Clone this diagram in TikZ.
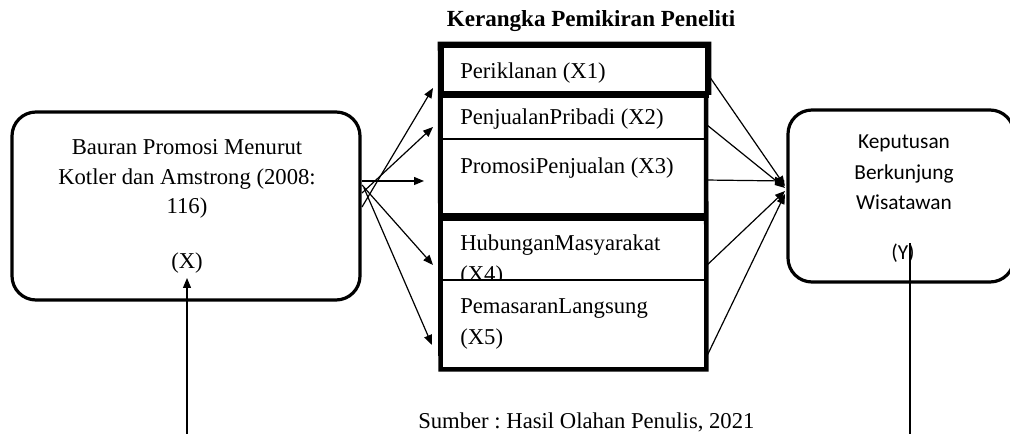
\documentclass[tikz,border=0pt]{standalone}
\usepackage{fontspec}
\setmainfont{Liberation Serif}
\newfontfamily\carl{Carlito}
\usetikzlibrary{arrows.meta,fit}
\frenchspacing
\begin{document}
\begin{tikzpicture}[x=0.75pt,y=-0.75pt,
  rbox/.style={draw,line width=2.4pt,rounded corners=18pt,inner sep=0pt},
  mbox/.style={draw,line width=1.6pt,fill=white,inner sep=0pt},
  ser/.style={font=\fontsize{17}{20}\selectfont,inner sep=0pt,anchor=base west},
  cen/.style={font=\fontsize{17}{20}\selectfont,inner sep=0pt,anchor=base},
  cal/.style={font=\carl\fontsize{16}{19}\selectfont,inner sep=0pt,anchor=base},
  arr/.style={line width=0.9pt,-{Triangle[length=7.5pt,width=6pt]}},
  ln/.style={line width=0.9pt}]
\useasboundingbox (0,0) rectangle (1010,434);

% title
\node[font=\bfseries\fontsize{17.3}{20}\selectfont,anchor=base,inner sep=0pt] (title) at (591,26.7) {Kerangka Pemikiran Peneliti};

% left box
\node[rbox,fit={(12,112) (360,300)}] (L) {};
\node[cen] (l1) at (187,155) {Bauran Promosi Menurut};
\node[cen] (l2) at (187,184.5) {Kotler dan Amstrong (2008:};
\node[cen] (l3) at (187,213.5) {116)};
\node[cen] (l4) at (187,268.5) {(X)};

% right box
\node[rbox,fit={(788,110) (1014,282)}] (R) {};
\node[cal] (r1) at (904,149) {Keputusan};
\node[cal] (r2) at (904,180) {Berkunjung};
\node[cal] (r3) at (904,210) {Wisatawan};
\node[cal] (r4) at (903,260) {(Y)};

% middle boxes
\node[mbox,line width=3pt,fit={(442,46) (707,93)}] (b1) {};
\node[ser] (t1) at (460,78.5) {Periklanan (X1)};
\node[mbox,fit={(442,93) (705,139)}] (b2) {};
\node[ser] (t2) at (460,125) {PenjualanPribadi (X2)};
\node[mbox,fit={(442,139) (705,216)}] (b3) {};
\node[ser] (t3) at (460,173.5) {PromosiPenjualan (X3)};
\node[mbox,fit={(442,216) (705,280)}] (b4) {};
\node[ser] (t4a) at (460,250.5) {HubunganMasyarakat};
\node[ser] (t4b) at (460,281.5) {(X4)};
\node[mbox,line width=2.2pt,fit={(442,280) (705,368)}] (b5) {};
\node[ser] (t5a) at (460,314) {PemasaranLangsung};
\node[ser] (t5b) at (460,344.5) {(X5)};

% thick frame and separators
\draw[line width=4.5pt] (b1.south west) -- (b1.south east);
\draw[line width=6pt] (b3.south west) -- (b3.south east);
\draw[line width=3.4pt,line join=miter] (b1.south east) -- (b1.north east) -- (b1.north west) -- (b5.south west) -- (b5.south east) -- (b2.north east);

% arrows left box -> middle
\coordinate (s1) at (362,207); \coordinate (e1) at (433,88);
\coordinate (s2) at (362,193); \coordinate (e2) at (433,127);
\coordinate (s3) at (362,181); \coordinate (e3) at (424,181);
\coordinate (s4) at (362,185); \coordinate (e4) at (433,265);
\coordinate (s5) at (364,188); \coordinate (e5) at (432,345);
\draw[arr] (s1) -- (e1);
\draw[arr] (s2) -- (e2);
\draw[arr] (s3) -- (e3);
\draw[arr] (s4) -- (e4);
\draw[arr] (s5) -- (e5);

% arrows middle -> right box
\coordinate (m1) at (707,73);  \coordinate (n1) at (785,186);
\coordinate (m2) at (707,125); \coordinate (n2) at (785,188);
\coordinate (m3) at (705,180); \coordinate (n3) at (785,181);
\coordinate (m4) at (705,267); \coordinate (n4) at (785,191);
\coordinate (m5) at (706,358); \coordinate (n5) at (785,194);
\draw[arr] (m1) -- (n1);
\draw[arr] (m2) -- (n2);
\draw[arr] (m3) -- (n3);
\draw[arr] (m4) -- (n4);
\draw[arr] (m5) -- (n5);

% bottom lines
\coordinate (bl) at (187,434); \coordinate (lx) at (187,278);
\draw[arr] (bl) -- (lx);
\coordinate (br) at (910,434); \coordinate (ry) at (910,243);
\draw[ln] (br) -- (ry);

% source
\node[ser] (src) at (418,428.5) {Sumber : Hasil Olahan Penulis, 2021};
\end{tikzpicture}
\end{document}
